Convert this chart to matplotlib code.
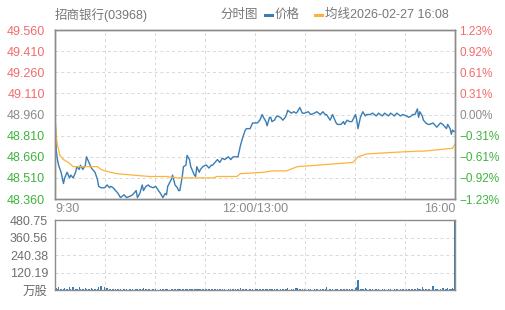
import matplotlib
matplotlib.use("Agg")
import matplotlib.pyplot as plt
from matplotlib.lines import Line2D

plt.rcParams['font.family'] = ['Liberation Sans', 'Noto Sans CJK SC', 'DejaVu Sans']

# minutes on the session axis (0 = 9:30, 330 = 16:00)
t_price = [0, 1, 2, 3, 5, 7, 8, 10, 12, 13, 15, 17, 18, 20, 21, 23, 25, 26, 28, 30,
           31, 33, 35, 36, 38, 41, 43, 45, 46, 48, 50, 52, 54, 57, 59, 62, 64, 67, 68, 70,
           72, 73, 75, 77, 78, 81, 83, 87, 89, 91, 92, 93, 96, 97, 99, 101, 102, 103, 105, 106,
           108, 109, 111, 112, 113, 115, 116, 117, 119, 120, 122, 124, 125, 127, 129, 130, 132, 134, 136, 138,
           140, 143, 145, 147, 149, 151, 153, 155, 157, 158, 161, 163, 166, 167, 169, 171, 172, 174, 175, 177,
           178, 179, 181, 183, 186, 188, 190, 191, 192, 195, 197, 199, 200, 202, 204, 206, 209, 211, 214, 216,
           219, 221, 223, 224, 227, 229, 232, 233, 236, 238, 239, 241, 243, 245, 248, 249, 250, 252, 253, 254,
           256, 257, 260, 262, 265, 267, 270, 272, 275, 277, 280, 282, 285, 287, 290, 292, 294, 295, 297, 299,
           300, 301, 303, 304, 306, 308, 309, 312, 314, 315, 318, 320, 322, 323, 324, 326, 327, 328, 329, 330]
price = [48.96, 48.71, 48.64, 48.60, 48.55, 48.47, 48.51, 48.55, 48.51, 48.53, 48.51, 48.55, 48.59, 48.57, 48.60, 48.57, 48.60, 48.66, 48.62, 48.58,
         48.57, 48.55, 48.50, 48.45, 48.44, 48.44, 48.46, 48.44, 48.45, 48.44, 48.42, 48.40, 48.37, 48.39, 48.37, 48.38, 48.39, 48.42, 48.37, 48.40,
         48.46, 48.42, 48.45, 48.46, 48.45, 48.44, 48.45, 48.40, 48.37, 48.40, 48.39, 48.45, 48.50, 48.53, 48.46, 48.44, 48.42, 48.42, 48.52, 48.59,
         48.60, 48.67, 48.64, 48.59, 48.57, 48.53, 48.52, 48.59, 48.55, 48.57, 48.59, 48.60, 48.60, 48.58, 48.60, 48.60, 48.62, 48.64, 48.62, 48.65,
         48.64, 48.66, 48.64, 48.66, 48.66, 48.66, 48.74, 48.80, 48.85, 48.86, 48.86, 48.90, 48.90, 48.90, 48.92, 48.96, 48.94, 48.91, 48.88, 48.94,
         48.94, 48.91, 48.92, 48.95, 48.94, 48.92, 48.94, 48.96, 48.99, 48.97, 48.98, 48.97, 48.98, 49.01, 48.97, 48.97, 48.98, 48.96, 48.97, 48.98,
         48.96, 48.98, 48.96, 48.96, 48.92, 48.96, 48.90, 48.89, 48.89, 48.91, 48.89, 48.92, 48.91, 48.91, 48.96, 48.92, 48.86, 48.94, 48.96, 48.98,
         48.95, 48.96, 48.96, 48.97, 48.95, 48.97, 48.95, 48.97, 48.95, 48.97, 48.95, 48.97, 48.95, 48.96, 48.95, 48.94, 48.95, 48.96, 48.96, 49.00,
         48.94, 48.98, 48.95, 48.92, 48.90, 48.89, 48.89, 48.90, 48.88, 48.87, 48.90, 48.89, 48.87, 48.86, 48.89, 48.86, 48.82, 48.85, 48.84, 48.84]
volume = [30, 12, 8, 22, 10, 8, 15, 9, 20, 7, 18, 8, 10, 22, 8, 6, 14, 7, 6, 12,
          6, 6, 8, 18, 25, 20, 15, 6, 6, 6, 6, 6, 6, 6, 6, 6, 6, 6, 6, 6,
          6, 12, 6, 6, 6, 6, 6, 6, 6, 6, 6, 6, 6, 6, 6, 6, 6, 6, 6, 6,
          6, 6, 6, 6, 6, 6, 6, 6, 6, 6, 6, 6, 6, 6, 6, 6, 6, 6, 6, 6,
          6, 6, 6, 6, 6, 6, 12, 6, 6, 6, 6, 6, 6, 6, 6, 6, 6, 6, 6, 6,
          6, 6, 6, 6, 6, 6, 6, 6, 16, 6, 6, 16, 16, 6, 6, 6, 6, 6, 6, 6,
          6, 6, 6, 23, 6, 6, 6, 10, 6, 6, 6, 6, 6, 6, 16, 23, 69, 6, 6, 6,
          16, 6, 6, 6, 6, 6, 6, 6, 6, 6, 6, 6, 6, 6, 6, 6, 6, 6, 6, 16,
          6, 6, 23, 6, 6, 6, 6, 30, 6, 6, 6, 16, 6, 6, 16, 6, 6, 16, 6, 480.75]

t_avg = [0, 1, 2, 3, 4, 7, 11, 15, 23, 35, 38, 41, 51, 64, 78, 92, 101, 130, 134, 150,
         153, 172, 180, 191, 200, 216, 246, 250, 257, 276, 299, 304, 328, 330]
avg = [48.96, 48.81, 48.74, 48.71, 48.67, 48.64, 48.62, 48.59, 48.59, 48.59, 48.57, 48.56, 48.54, 48.53, 48.52, 48.52, 48.51, 48.51, 48.52, 48.52,
       48.54, 48.55, 48.56, 48.56, 48.59, 48.60, 48.62, 48.66, 48.68, 48.69, 48.70, 48.70, 48.72, 48.75]

price_ticks = [48.36, 48.51, 48.66, 48.81, 48.96, 49.11, 49.26, 49.41, 49.56]
price_labels = ["48.360", "48.510", "48.660", "48.810", "48.960", "49.110", "49.260", "49.410", "49.560"]
pct_labels = ["−1.23%", "−0.92%", "−0.61%", "−0.31%", "0.00%", "0.31%", "0.61%", "0.92%", "1.23%"]
vol_ticks = [0, 120.19, 240.38, 360.56, 480.75]
vol_labels = ["万股", "120.19", "240.38", "360.56", "480.75"]
time_ticks = [0, 165, 330]
time_labels = ["9:30", "12:00/13:00", "16:00"]
prev_close = 48.96

RED, GREEN, GREY = "#f26b6b", "#3fb23f", "#8a8a8a"
BLUE, ORANGE = "#3a7db3", "#fbb43a"
grid_x = [i * 330 / 8 for i in range(9)]

fig = plt.figure(figsize=(5.05, 3.10), dpi=100)
ax = fig.add_axes([0.1089, 0.358, 0.792, 0.545])
axv = fig.add_axes([0.1089, 0.0645, 0.792, 0.2258])

def label_color(v):
    if abs(v - prev_close) < 1e-6:
        return GREY
    return RED if v > prev_close else GREEN

# price panel
ax.plot(t_price, price, color=BLUE, lw=1.0)
ax.plot(t_avg, avg, color=ORANGE, lw=0.9)
ax.set_xlim(0, 330)
ax.set_ylim(48.36, 49.56)
ax.set_yticks(price_ticks)
ax.set_yticklabels(price_labels, fontsize=9)
for lbl, v in zip(ax.get_yticklabels(), price_ticks):
    lbl.set_color(label_color(v))
ax.set_xticks(time_ticks)
ax.set_xticklabels(time_labels, fontsize=9, color=GREY)
xl = ax.get_xticklabels()
xl[0].set_horizontalalignment("left")
xl[2].set_horizontalalignment("right")
ax.tick_params(length=0, pad=7)
ax.tick_params(axis="x", pad=3)
for v in price_ticks[1:-1]:
    ax.axhline(v, color="#d8d8d8", lw=0.7, ls=(0, (3, 3)), zorder=0)
for g in grid_x[1:-1]:
    ax.axvline(g, color="#d8d8d8", lw=0.7, ls=(0, (3, 3)), zorder=0)

ax2 = ax.twinx()
ax2.set_ylim(48.36, 49.56)
ax2.set_yticks(price_ticks)
ax2.set_yticklabels(pct_labels, fontsize=8.5)
for lbl, v in zip(ax2.get_yticklabels(), price_ticks):
    lbl.set_color(label_color(v))
ax2.tick_params(length=0, pad=3)

for a in (ax, ax2, axv):
    for s in a.spines.values():
        s.set_color("#8c8c8c")
        s.set_linewidth(1.0)

# volume panel
axv.bar(t_price, volume, width=1.2, color=BLUE, linewidth=0)
axv.set_xlim(0, 330)
axv.set_ylim(0, 480.75)
axv.set_yticks(vol_ticks)
axv.set_yticklabels(vol_labels, fontsize=9, color="#6f6f6f")
axv.set_xticks([])
axv.tick_params(length=0, pad=5)
for v in vol_ticks[1:-1]:
    axv.axhline(v, color="#d8d8d8", lw=0.7, ls=(0, (3, 3)), zorder=0)
for g in grid_x[1:-1]:
    axv.axvline(g, color="#d8d8d8", lw=0.7, ls=(0, (3, 3)), zorder=0)

# header
hy = 1 - 15 / 310
fig.text(55 / 505, hy, "招商银行(03968)", fontsize=9, color="#777777", va="center")
fig.text(220 / 505, hy, "分时图", fontsize=9, color="#777777", va="center")
fig.add_artist(Line2D([265 / 505, 272 / 505], [hy, hy], color=BLUE, lw=2.2))
fig.text(275 / 505, hy, "价格", fontsize=9, color="#777777", va="center")
fig.add_artist(Line2D([315 / 505, 322 / 505], [hy, hy], color=ORANGE, lw=2.2))
fig.text(325 / 505, hy, "均线2026-02-27 16:08", fontsize=9, color="#777777", va="center")

fig.savefig("out.png", dpi=100)
